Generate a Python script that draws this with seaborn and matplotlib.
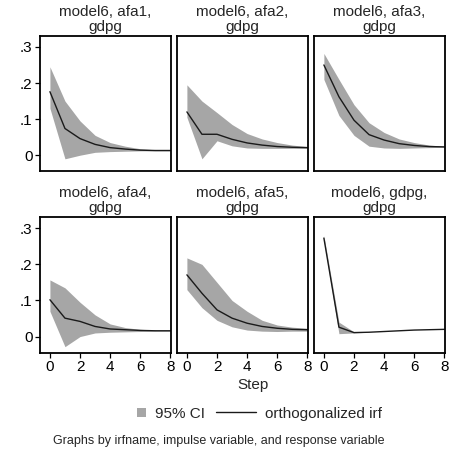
import numpy as np
import pandas as pd
import matplotlib
matplotlib.use("Agg")
import matplotlib.pyplot as plt
from matplotlib.lines import Line2D
from matplotlib.patches import Patch, Rectangle
from matplotlib.legend_handler import HandlerPatch
import seaborn as sns

sns.set_theme(style="white")
plt.rcParams["font.family"] = ["Liberation Sans", "DejaVu Sans"]

# Impulse-response results: step 0..8 for each impulse -> gdpg
steps = [0, 1, 2, 3, 4, 5, 6, 7, 8]
panel_titles = ["model6, afa1,\ngdpg", "model6, afa2,\ngdpg", "model6, afa3,\ngdpg",
                "model6, afa4,\ngdpg", "model6, afa5,\ngdpg", "model6, gdpg,\ngdpg"]

irf_afa1 = [0.176, 0.074, 0.046, 0.030, 0.021, 0.017, 0.014, 0.013, 0.013]
upper_afa1 = [0.245, 0.150, 0.095, 0.055, 0.035, 0.025, 0.018, 0.015, 0.014]
lower_afa1 = [0.130, -0.010, 0.000, 0.008, 0.010, 0.011, 0.012, 0.012, 0.012]

irf_afa2 = [0.120, 0.058, 0.058, 0.044, 0.034, 0.028, 0.024, 0.022, 0.021]
upper_afa2 = [0.195, 0.150, 0.118, 0.085, 0.060, 0.045, 0.035, 0.028, 0.024]
lower_afa2 = [0.105, -0.010, 0.040, 0.026, 0.020, 0.019, 0.019, 0.019, 0.019]

irf_afa3 = [0.250, 0.162, 0.097, 0.057, 0.042, 0.032, 0.027, 0.024, 0.023]
upper_afa3 = [0.282, 0.210, 0.140, 0.090, 0.063, 0.045, 0.035, 0.028, 0.025]
lower_afa3 = [0.210, 0.110, 0.055, 0.025, 0.020, 0.019, 0.020, 0.021, 0.022]

irf_afa4 = [0.102, 0.051, 0.042, 0.028, 0.021, 0.019, 0.017, 0.016, 0.016]
upper_afa4 = [0.157, 0.135, 0.095, 0.060, 0.035, 0.025, 0.020, 0.018, 0.017]
lower_afa4 = [0.070, -0.028, 0.000, 0.010, 0.012, 0.013, 0.014, 0.015, 0.015]

irf_afa5 = [0.171, 0.120, 0.074, 0.051, 0.037, 0.028, 0.023, 0.020, 0.019]
upper_afa5 = [0.218, 0.200, 0.150, 0.100, 0.070, 0.045, 0.032, 0.026, 0.023]
lower_afa5 = [0.130, 0.080, 0.045, 0.027, 0.018, 0.015, 0.014, 0.015, 0.015]

irf_gdpg = [0.273, 0.026, 0.011, 0.012, 0.014, 0.016, 0.018, 0.019, 0.020]
upper_gdpg = [0.280, 0.040, 0.013, 0.012, 0.014, 0.016, 0.018, 0.019, 0.020]
lower_gdpg = [0.265, 0.008, 0.010, 0.012, 0.014, 0.016, 0.018, 0.019, 0.020]

x_ticks = [0, 2, 4, 6, 8]
y_ticks = [0, 0.1, 0.2, 0.3]
y_tick_labels = ["0", ".1", ".2", ".3"]

series = [
    (irf_afa1, lower_afa1, upper_afa1),
    (irf_afa2, lower_afa2, upper_afa2),
    (irf_afa3, lower_afa3, upper_afa3),
    (irf_afa4, lower_afa4, upper_afa4),
    (irf_afa5, lower_afa5, upper_afa5),
    (irf_gdpg, lower_gdpg, upper_gdpg),
]

rows = []
for title, (irf, lo, hi) in zip(panel_titles, series):
    for s, v, l, h in zip(steps, irf, lo, hi):
        rows.append({"panel": title, "step": s, "oirf": v, "lo": l, "hi": h})
df = pd.DataFrame(rows)

CI_COLOR = "#a6a6a6"
LINE_COLOR = "#1a1a1a"


def draw_ci(data, **kwargs):
    ax = plt.gca()
    ax.fill_between(data["step"], data["lo"], data["hi"], color=CI_COLOR,
                    linewidth=0, zorder=1)


def square_key(legend, orig_handle, xdescent, ydescent, width, height, fontsize):
    # small square key sitting at the right end of the handle box
    side = 6.5
    return Rectangle((-xdescent + width - side, -ydescent + (height - side) / 2),
                     side, side)


g = sns.FacetGrid(df, col="panel", col_wrap=3, col_order=panel_titles,
                  sharex=True, sharey=True, height=1.5, aspect=1.0,
                  despine=False)
g.map_dataframe(draw_ci)
g.map_dataframe(sns.lineplot, x="step", y="oirf", color=LINE_COLOR,
                linewidth=1.0, zorder=2)

fig = g.figure
fig.set_size_inches(4.56, 4.57)
fig.set_dpi(100)
fig.subplots_adjust(left=0.088, right=0.976, top=0.921, bottom=0.228,
                    wspace=0.046, hspace=0.34)

for i, (ax, title) in enumerate(zip(g.axes.flat, panel_titles)):
    ax.set_title(title, fontsize=11, pad=4, linespacing=1.05)
    ax.set_xlim(-0.65, 8.05)
    ax.set_ylim(-0.045, 0.33)
    ax.set_xticks(x_ticks)
    ax.set_yticks(y_ticks)
    ax.set_yticklabels(y_tick_labels)
    ax.set_xlabel("")
    ax.set_ylabel("")
    ax.tick_params(axis="both", direction="out", length=3.5, width=0.9,
                   labelsize=11, pad=2, colors="black",
                   bottom=True, left=True)
    if i < 3:
        ax.tick_params(axis="x", labelbottom=False, bottom=False)
    if i % 3 != 0:
        ax.tick_params(axis="y", labelleft=False, left=False)
    for sp in ax.spines.values():
        sp.set_visible(True)
        sp.set_color("black")
        sp.set_linewidth(1.3)

fig.text(0.555, 0.158, "Step", ha="center", va="center", fontsize=11)

ci_key = Patch(facecolor=CI_COLOR, edgecolor="none")
line_key = Line2D([0], [0], color=LINE_COLOR, linewidth=1.0)
fig.legend([ci_key, line_key], ["95% CI", "orthogonalized irf"], loc="center",
           bbox_to_anchor=(0.535, 0.095), ncol=2, frameon=False, fontsize=11,
           handlelength=2.6, columnspacing=0.7, handletextpad=0.6,
           handler_map={ci_key: HandlerPatch(patch_func=square_key)})

fig.text(0.116, 0.035, "Graphs by irfname, impulse variable, and response variable",
         ha="left", va="center", fontsize=9)

fig.savefig("out.png", dpi=100, facecolor="white")
